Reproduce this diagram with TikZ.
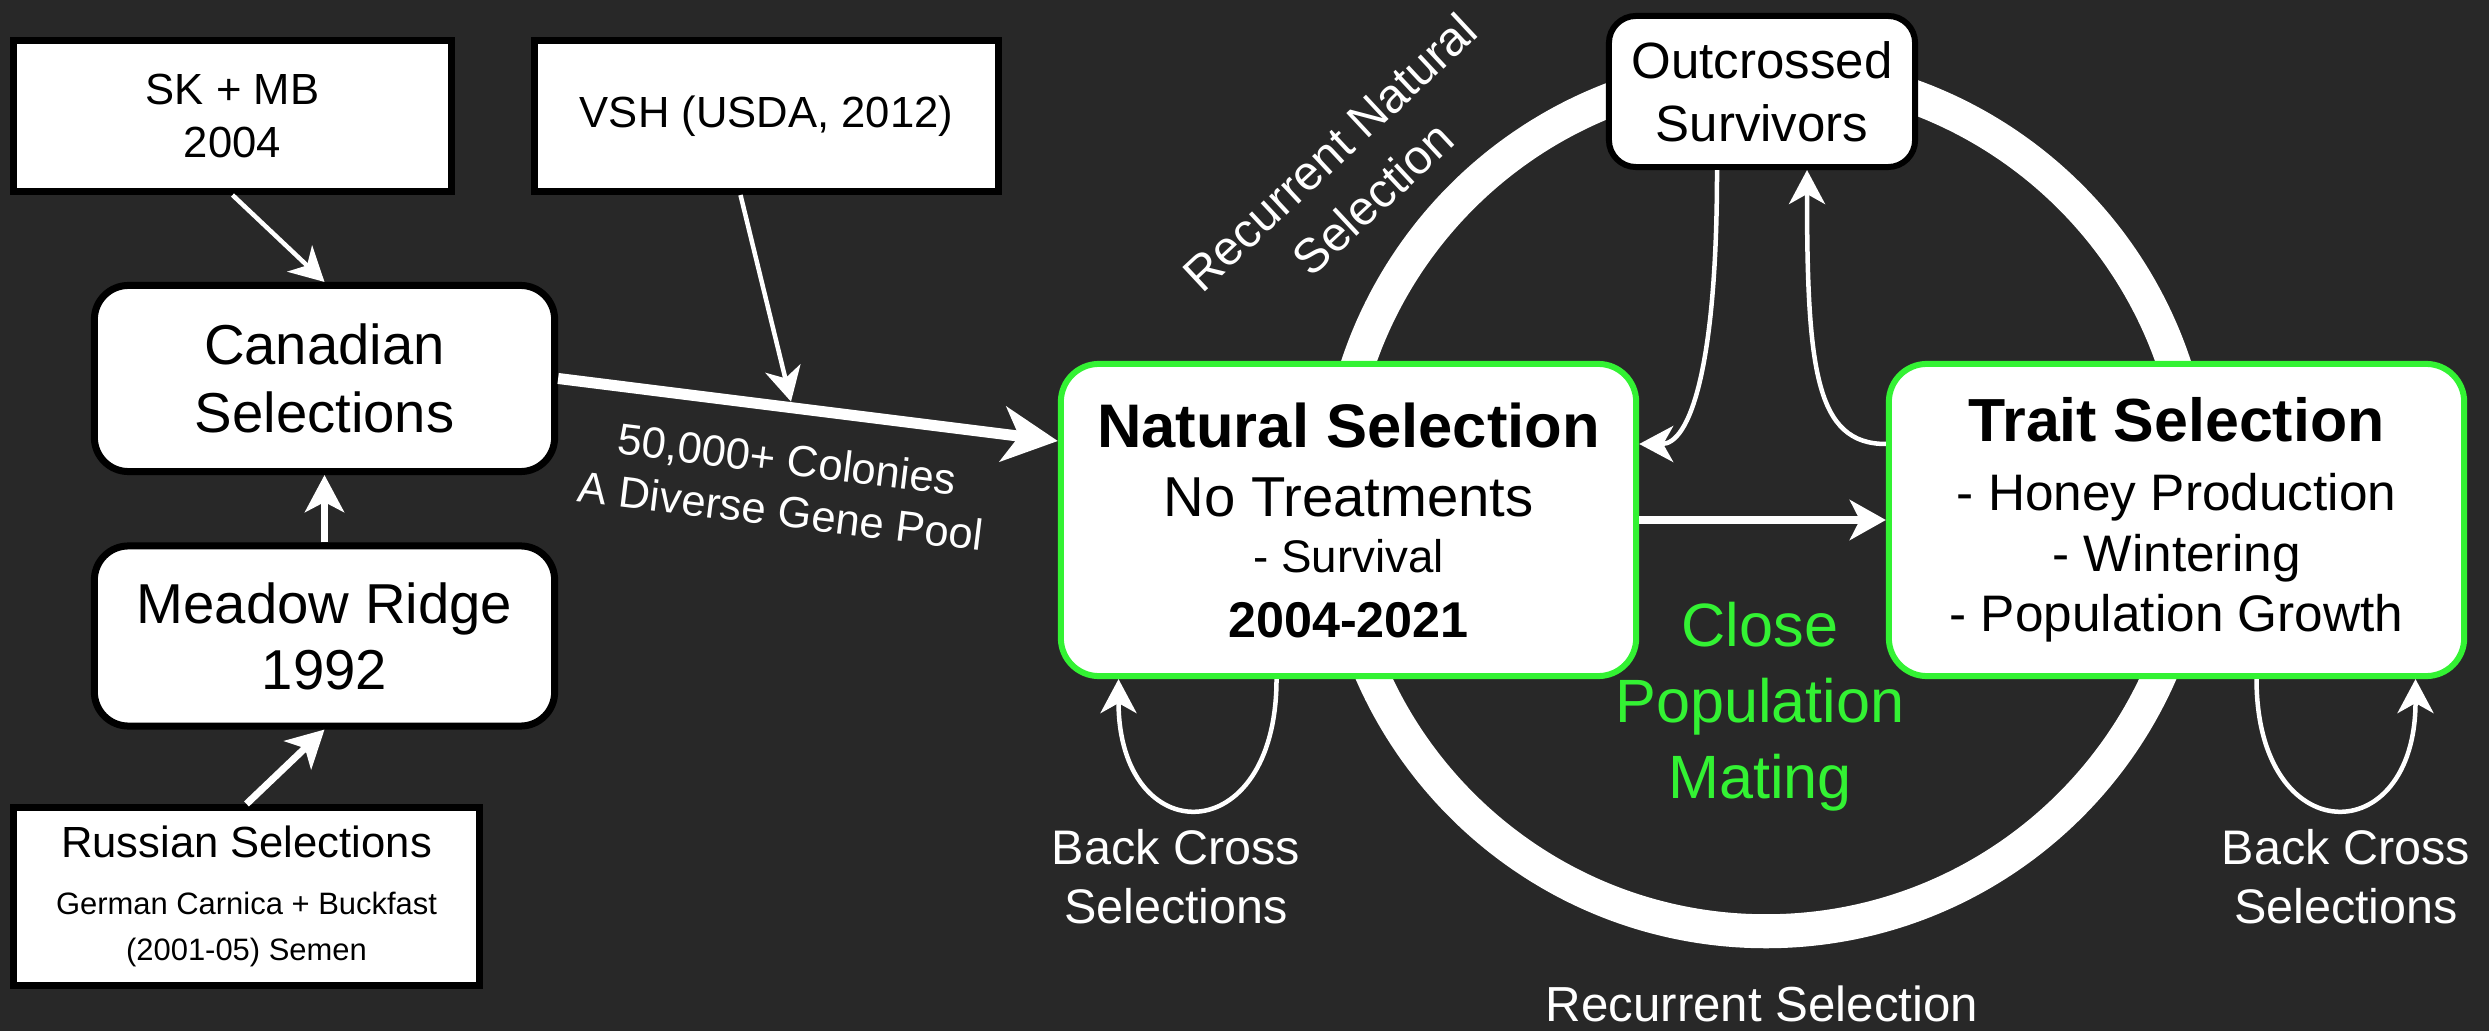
\documentclass[tikz,border=0pt]{standalone}
\usepackage{fontspec}
\setmainfont{Liberation Sans}
\usetikzlibrary{arrows.meta,calc}
\definecolor{bg}{HTML}{282828}
\definecolor{ngreen}{HTML}{33F233}
\newcommand\myfs[2]{\fontsize{#1}{#2}\selectfont}
\begin{document}
\begin{tikzpicture}[x=0.01cm,y=-0.01cm,
  sqbox/.style={draw=black,line width=0.07cm,fill=white,text=black,align=center,inner sep=0pt},
  rbox/.style={sqbox,rounded corners=0.34cm},
  gbox/.style={draw=ngreen,line width=0.06cm,fill=white,text=black,align=center,inner sep=0pt,rounded corners=0.38cm},
  obox/.style={draw=black,line width=0.06cm,fill=white,text=black,align=center,inner sep=0pt,rounded corners=0.27cm},
  wtext/.style={text=white,align=center,inner sep=0pt},
  thinarr/.style={draw=white,line width=0.045cm,-{Stealth[length=0.34cm,width=0.36cm,inset=0.1cm]}},
  medarr/.style={draw=white,line width=0.07cm,-{Stealth[length=0.37cm,width=0.39cm,inset=0.1cm]}},
  midarr/.style={draw=white,line width=0.08cm,-{Stealth[length=0.36cm,width=0.40cm,inset=0.1cm]}},
  bigarr/.style={draw=white,line width=0.11cm,-{Stealth[length=0.55cm,width=0.55cm,inset=0.16cm]}},
]
\fill[bg] (0,0) rectangle (2489,1031);
\useasboundingbox (0,0) rectangle (2489,1031);

% recurrent selection ring
\draw[white,line width=0.34cm] (1766,501) circle[radius=4.3cm];

% left column
\node[sqbox,minimum width=4.38cm,minimum height=1.51cm,font={\myfs{12.4}{15}}] (sk) at (232.5,116) {SK + MB\\2004};
\node[sqbox,minimum width=4.64cm,minimum height=1.51cm,font={\myfs{12.4}{15}}] (vsh) at (766.5,116) {VSH (USDA, 2012)};
\node[rbox,minimum width=4.60cm,minimum height=1.86cm,font={\myfs{16}{19.3}}] (can) at (324.5,378.5) {Canadian\\Selections};
\node[rbox,minimum width=4.60cm,minimum height=1.80cm,font={\myfs{16}{18.8}}] (mr) at (324.5,636) {Meadow Ridge\\1992};
\node[sqbox,minimum width=4.66cm,minimum height=1.78cm,font={\myfs{8.8}{13.3}}] (ru) at (246.5,896.5)
  {{\myfs{12.4}{15}Russian Selections}\\[2.9pt]German Carnica + Buckfast\\(2001-05) Semen};

% main boxes
\node[gbox,minimum width=5.75cm,minimum height=3.12cm,font={\myfs{13}{16.2}}] (ns) at (1348.5,520)
  {{\bfseries\myfs{17.5}{16.2}Natural Selection}\\[3.4pt]{\myfs{16}{16.2}No Treatments}\\- Survival\\[2pt]{\bfseries\myfs{14.3}{16.2}2004-2021}};
\node[gbox,minimum width=5.75cm,minimum height=3.12cm,font={\myfs{14.6}{17.2}}] (trait) at (2176.5,520)
  {{\bfseries\myfs{17.3}{17.2}Trait Selection}\\[2.4pt]- Honey Production\\- Wintering\\- Population Growth};
\node[obox,minimum width=3.06cm,minimum height=1.51cm,font={\myfs{14.5}{17.9}}] (out) at (1762,91.5) {Outcrossed\\Survivors};

% free labels
\node[wtext,rotate=-7,font={\myfs{12.4}{14.8}}] (gp) at (784,485) {50,000+ Colonies\\A Diverse Gene Pool};
\node[wtext,rotate=43,font={\myfs{13.7}{18}}] (rns) at (1351,175) {Recurrent Natural\\Selection};
\node[wtext,text=ngreen,font={\myfs{17.4}{21.6}}] (cpm) at (1760,707) {Close\\Population\\Mating};
\node[wtext,font={\myfs{14}{17}},anchor=base] (rs) at (1762,1021) {Recurrent Selection};
\node[wtext,font={\myfs{13.8}{16.75}}] (bcl) at (1176,877) {Back Cross\\Selections};
\node[wtext,font={\myfs{13.8}{16.75}}] (bcr) at (2346,877) {Back Cross\\Selections};

% connectors
\coordinate (nsin) at ($(ns.west)+(0,-79)$);
\coordinate (m) at ($(can.east)!0.466!(nsin)$);
\draw[bigarr] (can.east) -- (nsin);
\draw[thinarr] (sk.south) -- (can.north);
\draw[thinarr] ($(vsh.south)+(-26,0)$) -- ($(m)+(0,-6)$);
\draw[medarr] (mr.north) -- (can.south);
\draw[medarr] (ru.north) -- (mr.south);
\draw[midarr] (ns.east) -- (trait.west);
\draw[thinarr] ($(out.south)+(-45,0)$) .. controls +(0,200) and +(50,0) .. ($(ns.east)+(0,-76)$);
\draw[thinarr] ($(trait.west)+(0,-76)$) .. controls +(-70,0) and +(0,200) .. ($(out.south)+(45,0)$);
\draw[thinarr] ($(ns.south)+(-72,0)$) .. controls +(0,173) and +(0,173) .. ($(ns.south)+(-230,0)$);
\draw[thinarr] ($(trait.south)+(80,0)$) .. controls +(0,173) and +(0,173) .. ($(trait.south)+(239,0)$);
\end{tikzpicture}
\end{document}
